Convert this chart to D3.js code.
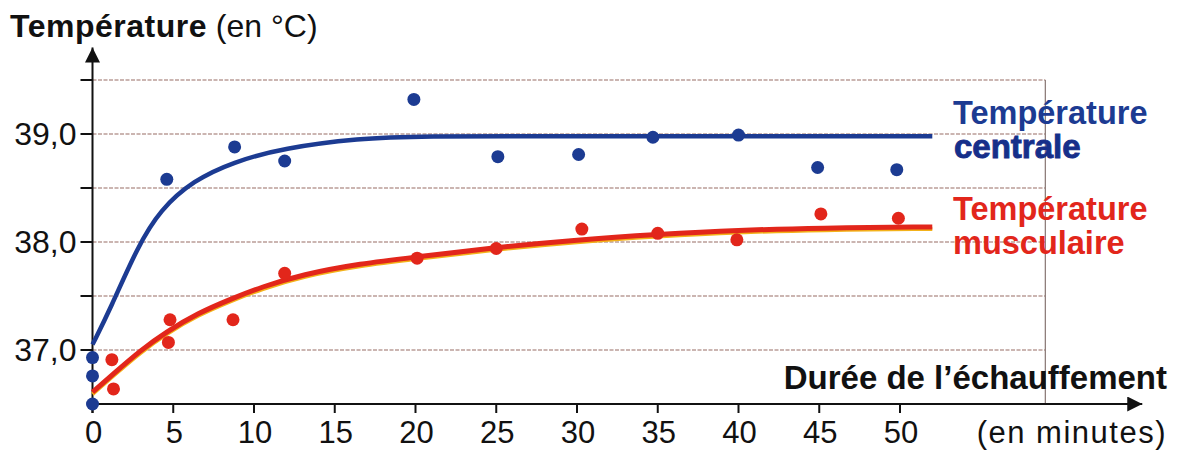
<!DOCTYPE html>
<meta charset="utf-8">
<script src="https://d3js.org/d3.v7.min.js"></script>
<style>
  body { margin: 0; background: #fff; }
  text { font-family: "Liberation Sans", Arial, sans-serif; }
</style>
<div id="chart"></div>
<script>

// ---- data ----
// measured points (minutes, °C)
var centraleMin = [0, 0, 0, 4.6, 8.8, 11.9, 19.9, 25.1, 30.1, 34.7, 40, 44.9, 49.8];
var centraleVal = [36.93, 36.76, 36.5, 38.58, 38.88, 38.75, 39.32, 38.79, 38.81, 38.97, 38.99, 38.69, 38.67];

var muscuMin = [1.2, 1.3, 4.8, 4.7, 8.7, 11.9, 20.1, 25, 30.3, 35, 39.9, 45.1, 49.9];
var muscuVal = [36.91, 36.64, 37.28, 37.07, 37.28, 37.71, 37.85, 37.94, 38.12, 38.08, 38.02, 38.26, 38.22];

// trend curves
var curveCMin = [0, 1.1, 2.8, 4.2, 6.25, 8.7, 11.8, 16.6, 20, 30, 40, 52];
var curveCVal = [37.05, 37.38, 37.96, 38.3, 38.57, 38.74, 38.87, 38.96, 38.98, 38.98, 38.98, 38.98];

var curveMMin = [0, 1.3, 3, 4.6, 6.5, 8.7, 10.4, 13, 16.6, 20, 25, 30, 35, 40, 45, 52];
var curveMVal = [36.61, 36.78, 37.0, 37.17, 37.34, 37.48, 37.58, 37.7, 37.8, 37.86, 37.95, 38.02, 38.07, 38.11, 38.13, 38.14];

var xTicks = [0, 5, 10, 15, 20, 25, 30, 35, 40, 45, 50];
var yGrid = [37, 37.5, 38, 38.5, 39, 39.5];
var yLabels = [37, 38, 39];

var blue = "#1c3b92", red = "#e2261b";

var width = 1178, height = 450;

var svg = d3.select("#chart").append("svg")
    .attr("width", width)
    .attr("height", height);

var x = d3.scaleLinear().domain([0, 50]).range([92.5, 900]);
var y = d3.scaleLinear().domain([36.5, 39.5]).range([404, 80]);

var xEnd = 59;      // right edge of the gridded frame
var xArrow = 65;    // tip of the time axis
var yArrow = 39.8;  // tip of the temperature axis

// grid lines
svg.append("g").selectAll("line")
  .data(yGrid)
  .enter().append("line")
    .attr("x1", x(0))
    .attr("x2", x(xEnd))
    .attr("y1", function(d) { return y(d); })
    .attr("y2", function(d) { return y(d); })
    .attr("stroke", "#bb9d98")
    .attr("stroke-width", 1.4)
    .attr("stroke-dasharray", "4,1.5");

// right border of the frame
svg.append("line")
    .attr("x1", x(xEnd)).attr("x2", x(xEnd))
    .attr("y1", y(39.5)).attr("y2", y(36.5))
    .attr("stroke", "#8f7f7c")
    .attr("stroke-width", 1.3);

// y ticks
svg.append("g").selectAll("line")
  .data(yGrid)
  .enter().append("line")
    .attr("x1", x(0) - 12)
    .attr("x2", x(0))
    .attr("y1", function(d) { return y(d); })
    .attr("y2", function(d) { return y(d); })
    .attr("stroke", "#111")
    .attr("stroke-width", 2);

svg.append("g").selectAll("text")
  .data(yLabels)
  .enter().append("text")
    .attr("x", x(0) - 16)
    .attr("y", function(d) { return y(d) + 11; })
    .attr("text-anchor", "end")
    .style("font-size", "32px")
    .attr("fill", "#111")
    .text(function(d) { return d3.format(".1f")(d).replace(".", ","); });

// x ticks
svg.append("g").selectAll("line")
  .data(xTicks)
  .enter().append("line")
    .attr("x1", function(d) { return x(d); })
    .attr("x2", function(d) { return x(d); })
    .attr("y1", y(36.5))
    .attr("y2", y(36.5) + 9)
    .attr("stroke", "#111")
    .attr("stroke-width", 2);

svg.append("g").selectAll("text")
  .data(xTicks)
  .enter().append("text")
    .attr("x", function(d) { return x(d) + 1; })
    .attr("y", 443)
    .attr("text-anchor", "middle")
    .style("font-size", "31px")
    .attr("fill", "#111")
    .text(function(d) { return d; });

// axes with arrows
svg.append("defs").append("marker")
    .attr("id", "arrow")
    .attr("viewBox", "0 0 10 10")
    .attr("refX", 10).attr("refY", 5)
    .attr("markerUnits", "userSpaceOnUse")
    .attr("markerWidth", 22).attr("markerHeight", 15)
    .attr("orient", "auto")
  .append("path")
    .attr("d", "M0,0 L10,5 L0,10 Z")
    .attr("fill", "#111");

svg.append("line")
    .attr("x1", x(0)).attr("x2", x(xArrow))
    .attr("y1", y(36.5)).attr("y2", y(36.5))
    .attr("stroke", "#111").attr("stroke-width", 2)
    .attr("marker-end", "url(#arrow)");

svg.append("line")
    .attr("x1", x(0)).attr("x2", x(0))
    .attr("y1", y(36.5) + 9).attr("y2", y(yArrow))
    .attr("stroke", "#111").attr("stroke-width", 2)
    .attr("marker-end", "url(#arrow)");

// trend curves
var line = d3.line()
    .x(function(d) { return x(d[0]); })
    .y(function(d) { return y(d[1]); })
    .curve(d3.curveBasis);

var curveC = d3.zip(curveCMin, curveCVal);
var curveM = d3.zip(curveMMin, curveMVal);

// yellow fringe under the red curve
svg.append("path")
    .datum(curveM)
    .attr("d", line)
    .attr("transform", "translate(0,2)")
    .attr("fill", "none")
    .attr("stroke", "#f3b21a")
    .attr("stroke-width", 4);

svg.append("path")
    .datum(curveM)
    .attr("d", line)
    .attr("fill", "none")
    .attr("stroke", red)
    .attr("stroke-width", 5);

svg.append("path")
    .datum(curveC)
    .attr("d", line)
    .attr("fill", "none")
    .attr("stroke", blue)
    .attr("stroke-width", 4.5);

// measured points
svg.append("g").selectAll("circle")
  .data(d3.zip(centraleMin, centraleVal))
  .enter().append("circle")
    .attr("cx", function(d) { return x(d[0]); })
    .attr("cy", function(d) { return y(d[1]); })
    .attr("r", 6.5)
    .attr("fill", blue);

svg.append("g").selectAll("circle")
  .data(d3.zip(muscuMin, muscuVal))
  .enter().append("circle")
    .attr("cx", function(d) { return x(d[0]); })
    .attr("cy", function(d) { return y(d[1]); })
    .attr("r", 6.5)
    .attr("fill", red);

// titles
var title = svg.append("text")
    .attr("x", 10).attr("y", 37)
    .style("font-size", "32px")
    .attr("fill", "#111");
title.append("tspan").style("font-weight", "bold").attr("letter-spacing", "0.5").text("Température");
title.append("tspan").text(" (en °C)");

svg.append("text")
    .attr("x", 1167).attr("y", 389)
    .attr("text-anchor", "end")
    .style("font-size", "33px")
    .style("font-weight", "bold")
    .attr("fill", "#111")
    .text("Durée de l’échauffement");

svg.append("text")
    .attr("x", 1167).attr("y", 443)
    .attr("text-anchor", "end")
    .style("font-size", "31px")
    .attr("letter-spacing", "1.5")
    .attr("fill", "#111")
    .text("(en minutes)");

// series labels
svg.append("text")
    .attr("x", 953).attr("y", 124)
    .style("font-size", "32.5px").style("font-weight", "bold")
    .attr("fill", blue)
    .text("Température");
svg.append("text")
    .attr("x", 954).attr("y", 158)
    .style("font-size", "33px").style("font-weight", "bold")
    .attr("fill", "#162f8a")
    .attr("stroke", "#162f8a").attr("stroke-width", 0.9)
    .text("centrale");
svg.append("text")
    .attr("x", 953).attr("y", 220)
    .style("font-size", "32.5px").style("font-weight", "bold")
    .attr("fill", red)
    .text("Température");
svg.append("text")
    .attr("x", 953).attr("y", 254)
    .style("font-size", "32.5px").style("font-weight", "bold")
    .attr("fill", red)
    .text("musculaire");

</script>
